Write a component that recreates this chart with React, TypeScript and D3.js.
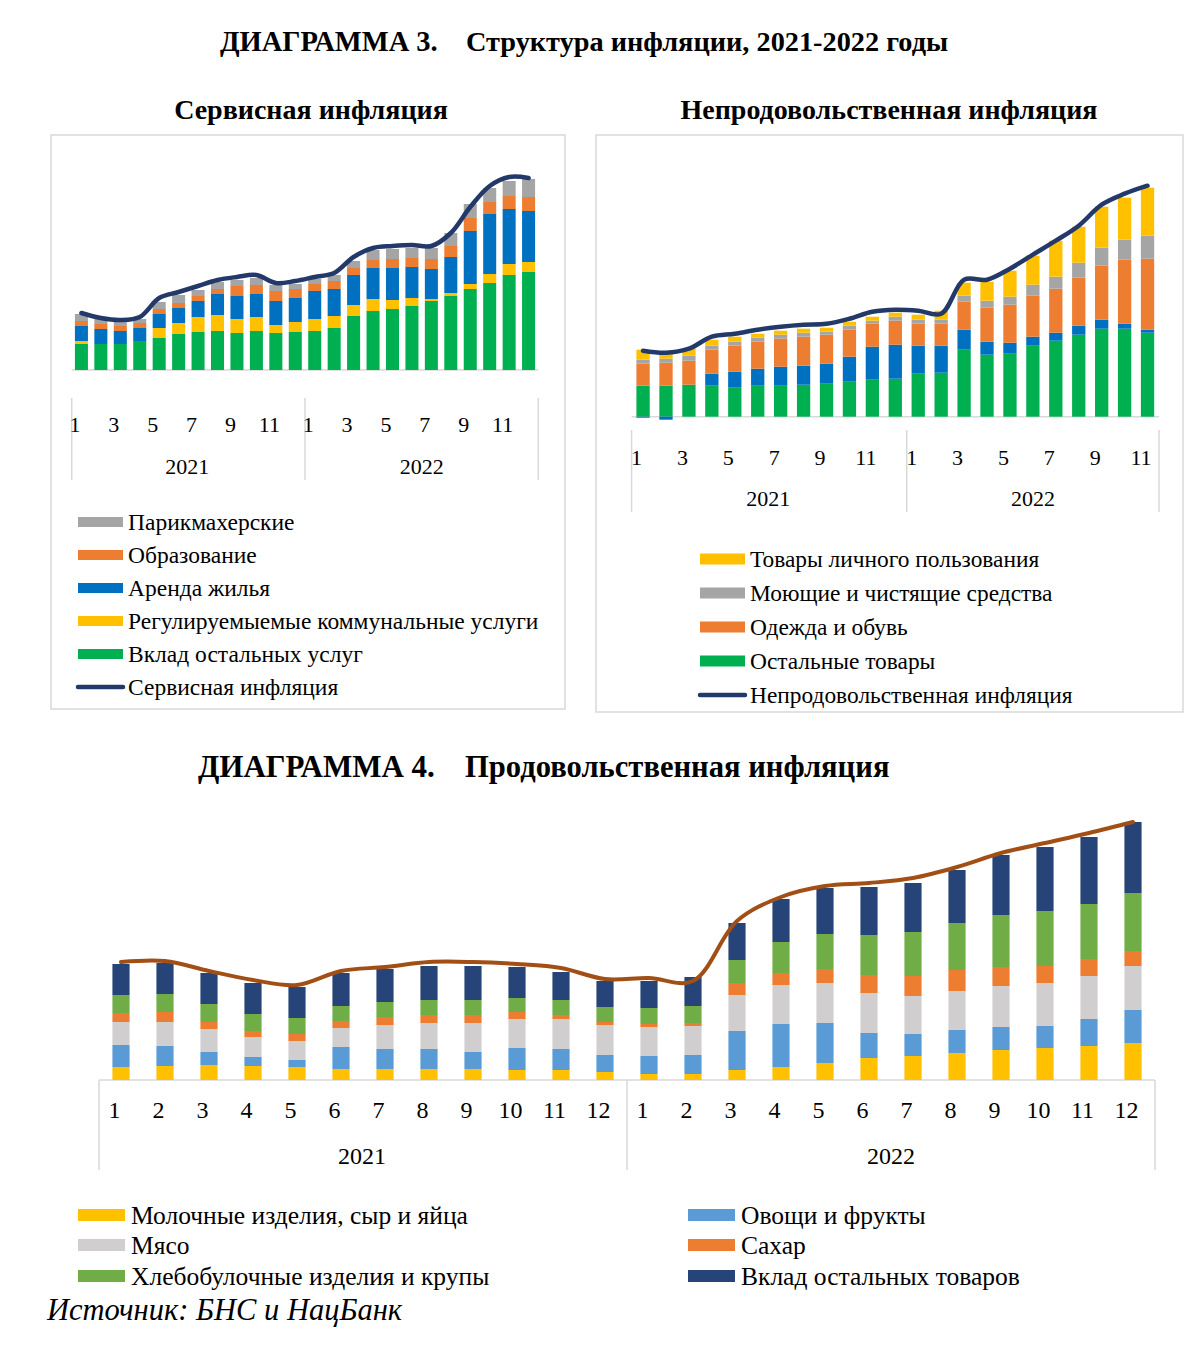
import * as d3 from 'd3';

const FONT = '"Liberation Serif", "Times New Roman", Times, serif';

const years = ['2021', '2022'];
const months = ['1', '2', '3', '4', '5', '6', '7', '8', '9', '10', '11', '12'];
const periods24 = years.flatMap((y) => months.map((m) => `${y}-${m}`));
// непродовольственная – по ноябрь 2022
const periods23 = periods24.slice(0, 23);

// ---- Сервисная инфляция, вклад, п.п.
const svcOther = [2.6, 2.6, 2.6, 2.9, 3.2, 3.6, 3.8, 3.9, 3.7, 3.9, 3.7, 3.8, 3.9, 4.2, 5.4, 5.9, 6.1, 6.4, 6.9, 7.4, 8.1, 8.7, 9.5, 9.8];
const svcUtilities = [0.3, 0, 0, 0, 1.0, 1.1, 1.5, 1.6, 1.4, 1.4, 0.8, 1.0, 1.2, 1.2, 1.1, 1.2, 0.9, 0.8, 0.2, 0.3, 0.5, 0.9, 1.1, 1.0];
const svcRent = [1.5, 1.5, 1.3, 1.3, 1.4, 1.5, 1.6, 2.1, 2.3, 2.3, 2.4, 2.4, 2.8, 2.7, 3.0, 3.1, 3.2, 3.1, 3.0, 3.6, 5.3, 6.0, 5.5, 5.1];
const svcEducation = [0.5, 0.5, 0.5, 0.5, 0.5, 0.5, 0.5, 0.5, 1.0, 0.9, 1.0, 0.9, 0.7, 0.8, 0.7, 0.8, 0.9, 0.9, 1.0, 1.1, 1.3, 1.2, 1.3, 1.4];
const svcHair = [0.7, 0.5, 0.4, 0.4, 0.7, 0.8, 0.6, 0.7, 0.6, 0.7, 0.6, 0.5, 0.5, 0.6, 0.7, 1.0, 1.0, 1.0, 1.1, 1.3, 1.4, 1.4, 1.5, 1.8];
const svcTotal = [5.7, 5.2, 5.0, 5.3, 7.2, 7.8, 8.4, 9.0, 9.3, 9.5, 8.7, 8.9, 9.3, 9.7, 11.3, 12.2, 12.4, 12.5, 12.4, 13.7, 16.3, 18.4, 19.3, 19.2];

// ---- Непродовольственная инфляция, вклад, п.п.
const nfOther = [3.1, 3.1, 3.2, 3.1, 2.9, 3.1, 3.1, 3.2, 3.3, 3.5, 3.7, 3.8, 4.3, 4.4, 6.7, 6.2, 6.3, 7.1, 7.6, 8.2, 8.8, 8.8, 8.4];
const nfBlue = [-0.1, -0.3, 0, 1.2, 1.6, 1.7, 1.9, 1.9, 2.0, 2.5, 3.3, 3.4, 2.8, 2.7, 2.0, 1.3, 1.1, 0.9, 0.8, 0.9, 0.9, 0.5, 0.3];
const nfClothes = [2.2, 2.3, 2.4, 2.4, 2.6, 2.7, 2.8, 2.9, 2.9, 2.7, 2.3, 2.4, 2.2, 2.2, 2.8, 3.4, 3.8, 4.1, 4.4, 4.8, 5.4, 6.4, 7.1];
const nfDetergents = [0.4, 0.4, 0.5, 0.4, 0.4, 0.4, 0.4, 0.4, 0.3, 0.4, 0.3, 0.4, 0.4, 0.4, 0.6, 0.7, 0.8, 1.1, 1.2, 1.5, 1.8, 2.0, 2.3];
const nfPersonal = [1.0, 0.6, 0.7, 0.6, 0.5, 0.4, 0.4, 0.4, 0.4, 0.4, 0.4, 0.4, 0.5, 0.9, 1.3, 1.9, 2.6, 2.9, 3.6, 3.6, 4.1, 4.2, 4.8];
const nfTotal = [6.6, 6.4, 6.8, 8.0, 8.3, 8.7, 9.0, 9.2, 9.3, 9.8, 10.5, 10.7, 10.6, 10.3, 13.7, 13.7, 14.8, 16.2, 17.6, 19.1, 21.2, 22.3, 23.1];

// ---- Продовольственная инфляция, вклад, п.п.
const fdDairy = [1.3, 1.4, 1.5, 1.4, 1.3, 1.1, 1.1, 1.1, 1.1, 1.0, 1.0, 0.8, 0.6, 0.6, 1.0, 1.3, 1.7, 2.2, 2.4, 2.7, 3.0, 3.2, 3.4, 3.7];
const fdVeg = [2.2, 2.0, 1.3, 0.9, 0.7, 2.2, 2.0, 2.0, 1.7, 2.2, 2.1, 1.7, 1.8, 1.9, 3.9, 4.3, 4.0, 2.5, 2.2, 2.3, 2.3, 2.2, 2.7, 3.3];
const fdMeat = [2.3, 2.4, 2.3, 2.0, 1.9, 1.9, 2.4, 2.6, 2.9, 2.9, 3.0, 3.0, 2.9, 2.9, 3.6, 3.9, 4.0, 4.0, 3.8, 3.9, 4.1, 4.3, 4.3, 4.4];
const fdSugar = [0.9, 1.0, 0.7, 0.6, 0.7, 0.7, 0.8, 0.8, 0.8, 0.7, 0.4, 0.3, 0.3, 0.3, 1.2, 1.2, 1.4, 1.8, 2.0, 2.1, 1.9, 1.7, 1.7, 1.5];
const fdBread = [1.8, 1.8, 1.8, 1.7, 1.6, 1.5, 1.5, 1.5, 1.5, 1.4, 1.5, 1.5, 1.6, 1.7, 2.3, 3.1, 3.5, 4.0, 4.4, 4.7, 5.2, 5.5, 5.5, 5.8];
const fdRest = [3.1, 3.1, 3.1, 3.1, 3.1, 3.3, 3.3, 3.4, 3.4, 3.1, 2.8, 2.6, 2.7, 2.9, 3.7, 4.3, 4.6, 4.8, 4.9, 5.3, 6.0, 6.4, 6.7, 7.1];
const fdTotal = [11.8, 11.9, 10.9, 10.0, 9.5, 10.9, 11.3, 11.8, 11.8, 11.6, 11.2, 10.1, 10.2, 9.9, 15.9, 18.3, 19.4, 19.7, 20.2, 21.3, 22.7, 23.7, 24.7, 25.8];

type Series = { name: string; color: string; values: number[]; legend?: boolean };

const svcSeries: Series[] = [
  { name: 'Вклад остальных услуг', color: '#00B050', values: svcOther },
  { name: 'Регулируемыемые коммунальные услуги', color: '#FFC000', values: svcUtilities },
  { name: 'Аренда жилья', color: '#0070C0', values: svcRent },
  { name: 'Образование', color: '#ED7D31', values: svcEducation },
  { name: 'Парикмахерские', color: '#A5A5A5', values: svcHair },
];

const nfSeries: Series[] = [
  { name: 'Остальные товары', color: '#00B050', values: nfOther },
  { name: 'blue', color: '#0070C0', values: nfBlue, legend: false },
  { name: 'Одежда и обувь', color: '#ED7D31', values: nfClothes },
  { name: 'Моющие и чистящие средства', color: '#A5A5A5', values: nfDetergents },
  { name: 'Товары личного пользования', color: '#FFC000', values: nfPersonal },
];

const fdSeries: Series[] = [
  { name: 'Молочные изделия, сыр и яйца', color: '#FFC000', values: fdDairy },
  { name: 'Овощи и фрукты', color: '#5B9BD5', values: fdVeg },
  { name: 'Мясо', color: '#D0CECE', values: fdMeat },
  { name: 'Сахар', color: '#ED7D31', values: fdSugar },
  { name: 'Хлебобулочные изделия и крупы', color: '#70AD47', values: fdBread },
  { name: 'Вклад остальных товаров', color: '#264478', values: fdRest },
];

const AXIS_GRAY = '#D9D9D9';

interface PanelProps {
  periods: string[];
  series: Series[];
  total: number[];
  lineColor: string;
  lineWidth: number;
  x0: number;
  x1: number;
  base: number;
  top: number;
  yMax: number;
  pad: number;
  tickY: number;
  yearY: number;
  divTop: number;
  divBottom: number;
  fontSize: number;
  oddOnly: boolean;
}

function Panel(p: PanelProps) {
  const x = d3
    .scaleBand<string>()
    .domain(p.periods)
    .range([p.x0, p.x1])
    .paddingInner(p.pad)
    .paddingOuter(p.pad / 2);
  const y = d3.scaleLinear().domain([0, p.yMax]).range([p.base, p.top]);
  const step = x.step();
  const bw = x.bandwidth();

  const rows = p.periods.map((_, i) => {
    const r: Record<string, number> = {};
    p.series.forEach((s) => (r[s.name] = s.values[i]));
    return r;
  });
  const stacked = d3
    .stack<Record<string, number>>()
    .keys(p.series.map((s) => s.name))
    .offset(d3.stackOffsetDiverging)(rows);

  const cx = (i: number) => (x(p.periods[i]) as number) + bw / 2;
  const line = d3
    .line<number>()
    .x((_, i) => cx(i))
    .y((v) => y(v))
    .curve(d3.curveCatmullRom.alpha(0.5));

  const mid = p.x0 + 12 * step;

  return (
    <g>
      <line x1={p.x0} x2={p.x1} y1={p.base} y2={p.base} stroke={AXIS_GRAY} strokeWidth={1.5} />
      {stacked.map((layer, li) => (
        <g key={layer.key} fill={p.series[li].color}>
          {layer.map((d, i) => {
            const ya = y(d[0]);
            const yb = y(d[1]);
            const h = Math.abs(ya - yb);
            if (h < 0.01) return null;
            return <rect key={i} x={x(p.periods[i])} y={Math.min(ya, yb)} width={bw} height={h} />;
          })}
        </g>
      ))}
      <path d={line(p.total) || ''} fill="none" stroke={p.lineColor} strokeWidth={p.lineWidth} strokeLinecap="round" />
      {[p.x0, mid, p.x1].map((xx, i) => (
        <line key={i} x1={xx} x2={xx} y1={p.divTop} y2={p.divBottom} stroke={AXIS_GRAY} strokeWidth={1.5} />
      ))}
      <g fontFamily={FONT} fontSize={p.fontSize} fill="#000">
        {p.periods.map((per, i) => {
          const m = per.split('-')[1];
          if (p.oddOnly && +m % 2 === 0) return null;
          return (
            <text key={per} x={cx(i) - 6.5} y={p.tickY} textAnchor="middle" dominantBaseline="central">
              {m}
            </text>
          );
        })}
        {years.map((yr, i) => (
          <text
            key={yr}
            x={i === 0 ? (p.x0 + mid) / 2 - 1 : (mid + p.x1) / 2}
            y={p.yearY}
            textAnchor="middle"
            dominantBaseline="central"
          >
            {yr}
          </text>
        ))}
      </g>
    </g>
  );
}

interface LegendItem {
  name: string;
  color: string;
  isLine?: boolean;
}

function Legend({ items, x, rows, sw, sh, fontSize, textGap }: { items: LegendItem[]; x: number; rows: number[]; sw: number; sh: number; fontSize: number; textGap: number }) {
  return (
    <g fontFamily={FONT} fontSize={fontSize}>
      {items.map((it, i) =>
        <g key={it.name} transform={`translate(${x},${rows[i]})`}>
          {it.isLine ? (
            <line x1={0} x2={sw} y1={0} y2={0} stroke={it.color} strokeWidth={4.5} strokeLinecap="round" />
          ) : (
            <rect x={0} y={-sh / 2} width={sw} height={sh} fill={it.color} />
          )}
          <text x={sw + textGap} y={0} dominantBaseline="central">
            {it.name}
          </text>
        </g>
      )}
    </g>
  );
}

const SVC_LINE = '#22396A';
const FOOD_LINE = '#A24F16';

export default function App() {
  const svcLegend: LegendItem[] = [
    ...svcSeries.slice().reverse().map((s) => ({ name: s.name, color: s.color })),
    { name: 'Сервисная инфляция', color: SVC_LINE, isLine: true },
  ];
  const nfLegend: LegendItem[] = [
    ...nfSeries.filter((s) => s.legend !== false).reverse().map((s) => ({ name: s.name, color: s.color })),
    { name: 'Непродовольственная инфляция', color: SVC_LINE, isLine: true },
  ];
  const fdCol1 = [fdSeries[0], fdSeries[2], fdSeries[4]];
  const fdCol2 = [fdSeries[1], fdSeries[3], fdSeries[5]];

  return (
    <div style={{ position: 'absolute', left: 0, top: 0 }}>
      <svg width={1200} height={1368} style={{ display: 'block' }} fontFamily={FONT} fill="#000">
        <rect width={1200} height={1368} fill="#fff" />

        {/* ДИАГРАММА 3 */}
        <g fontWeight="bold" fontFamily={FONT}>
          <text x={220} y={51} fontSize={28.5}>ДИАГРАММА 3.</text>
          <text x={466} y={51} fontSize={28.3}>Структура инфляции, 2021-2022 годы</text>
          <text x={311} y={119} fontSize={28} textAnchor="middle">Сервисная инфляция</text>
          <text x={889} y={119} fontSize={28} textAnchor="middle">Непродовольственная инфляция</text>
        </g>

        <rect x={51} y={135} width={514} height={574} fill="none" stroke={AXIS_GRAY} strokeWidth={1.5} />
        <rect x={596} y={135} width={587} height={577} fill="none" stroke={AXIS_GRAY} strokeWidth={1.5} />

        <Panel
          periods={periods24}
          series={svcSeries}
          total={svcTotal}
          lineColor={SVC_LINE}
          lineWidth={4.5}
          x0={71.7}
          x1={538.3}
          base={370}
          top={160}
          yMax={21}
          pad={0.33}
          tickY={424}
          yearY={466}
          divTop={398}
          divBottom={480}
          fontSize={22}
          oddOnly
        />
        <Legend items={svcLegend} x={78} rows={[522, 555, 588, 621, 654, 687]} sw={45} sh={10} fontSize={23.5} textGap={5} />

        <Panel
          periods={periods23}
          series={nfSeries}
          total={nfTotal}
          lineColor={SVC_LINE}
          lineWidth={4.5}
          x0={631.6}
          x1={1159}
          base={416.7}
          top={146.7}
          yMax={27}
          pad={0.42}
          tickY={457}
          yearY={498}
          divTop={430}
          divBottom={512}
          fontSize={22}
          oddOnly
        />
        <Legend items={nfLegend} x={700} rows={[559, 593, 627, 661, 695]} sw={45} sh={11} fontSize={23.4} textGap={5} />

        {/* ДИАГРАММА 4 */}
        <g fontWeight="bold" fontFamily={FONT} fontSize={31}>
          <text x={198} y={777}>ДИАГРАММА 4.</text>
          <text x={465} y={777} fontSize={30.6}>Продовольственная инфляция</text>
        </g>

        <Panel
          periods={periods24}
          series={fdSeries}
          total={fdTotal}
          lineColor={FOOD_LINE}
          lineWidth={4}
          x0={99}
          x1={1155}
          base={1080}
          top={810}
          yMax={27}
          pad={0.61}
          tickY={1110}
          yearY={1156}
          divTop={1080}
          divBottom={1170}
          fontSize={24}
          oddOnly={false}
        />
        <Legend items={fdCol1.map((s) => ({ name: s.name, color: s.color }))} x={78} rows={[1215, 1245, 1276]} sw={47} sh={12} fontSize={25.5} textGap={6} />
        <Legend items={fdCol2.map((s) => ({ name: s.name, color: s.color }))} x={688} rows={[1215, 1245, 1276]} sw={47} sh={12} fontSize={25.5} textGap={6} />

        <text x={47} y={1320} fontStyle="italic" fontFamily={FONT} fontSize={30.5}>
          Источник: БНС и НацБанк
        </text>
      </svg>
    </div>
  );
}
